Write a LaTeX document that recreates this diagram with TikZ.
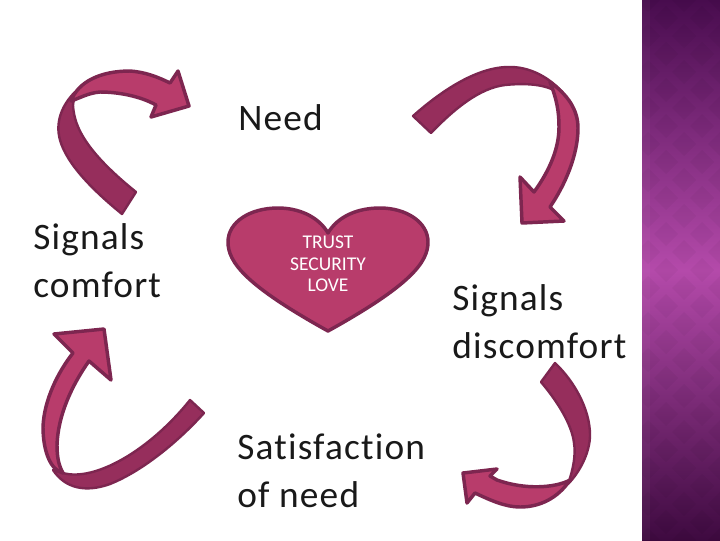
\documentclass[tikz,border=0pt]{standalone}
\usepackage{fontspec}
\setmainfont{Carlito}
\newfontfamily\labelfont[LetterSpace=3.2,Ligatures={NoCommon,NoContextual},RawFeature={-liga;-clig;-dlig}]{Carlito}
\definecolor{ribbonlight}{RGB}{184,60,107}
\definecolor{ribbondark}{RGB}{150,46,92}
\definecolor{ribbonline}{RGB}{125,38,80}
\definecolor{paneltop}{RGB}{72,12,78}
\definecolor{panelmid}{RGB}{180,74,170}
\definecolor{panelbottom}{RGB}{62,10,64}
\tikzset{
  lightpart/.style={draw=ribbonline,fill=ribbonlight,line width=2.6pt,line join=round},
  darkpart/.style={draw=ribbonline,fill=ribbondark,line width=1.8pt,line join=round},
  bigtext/.style={inner sep=0pt,anchor=west,align=left,font=\labelfont\fontsize{28}{36}\selectfont,text=black!90},
  hearttext/.style={inner sep=0pt,align=center,font=\fontsize{14.6}{16.2}\selectfont,text=white}
}
\begin{document}
\begin{tikzpicture}[x=0.75pt,y=-0.75pt]
\useasboundingbox (0,0) rectangle (720,540);
\fill[white] (0,0) rectangle (720,540);
% side panel
\shade[top color=paneltop,bottom color=panelbottom,middle color=panelmid] (642,0) rectangle (720,540);
\begin{scope}
\clip (642,0) rectangle (720,540);
\foreach \row in {0,...,30} {
  \foreach \col in {0,1,2,3} {
    \pgfmathsetmacro{\cx}{648+\col*36+mod(\row,2)*18}
    \pgfmathsetmacro{\cy}{\row*18}
    \fill[black,opacity=0.03] (\cx,\cy-12) -- (\cx+12,\cy) -- (\cx,\cy+12) -- (\cx-12,\cy) -- cycle;
  }
}
\fill[white,opacity=0.04] (642,0) rectangle (650,540);
\end{scope}
% top left arrow
\draw[darkpart] (122,214) .. controls (95,192) and (67,165) .. (60,140)
  .. controls (55,122) and (62,105) .. (75,92) -- (73,105)
  .. controls (74,122) and (80,147) .. (136,192) -- cycle;
\draw[lightpart] (71,101) .. controls (78,82) and (100,71) .. (130,71)
  .. controls (145,72) and (158,77) .. (170,83) -- (178,71) -- (189,106) -- (151,117) -- (156,105)
  .. controls (140,96) and (118,92) .. (100,92) .. controls (88,93) and (80,98) .. (71,101) -- cycle;
% top right arrow
\draw[darkpart] (413,116) .. controls (440,92) and (475,68) .. (507,67)
  .. controls (530,66) and (550,78) .. (563,93) -- (557,92)
  .. controls (545,84) and (525,83) .. (505,85)
  .. controls (480,88) and (455,108) .. (431,133) -- cycle;
\draw[lightpart] (550,82) .. controls (568,95) and (578,110) .. (578,128)
  .. controls (578,155) and (565,185) .. (550,207) -- (564,221) -- (522,223) -- (520,177) -- (534,192)
  .. controls (550,170) and (559,148) .. (559,127) .. controls (559,112) and (557,100) .. (550,82) -- cycle;
% bottom left arrow
\draw[darkpart] (204,413) .. controls (175,445) and (140,472) .. (110,484)
  .. controls (85,493) and (65,488) .. (53,470) -- (63,473)
  .. controls (95,482) and (150,450) .. (190,400) -- cycle;
\draw[lightpart] (63,473) .. controls (50,470) and (43,450) .. (43,427)
  .. controls (44,400) and (58,372) .. (73,353) -- (54,334) -- (104,329) -- (111,380) -- (89,361)
  .. controls (72,385) and (58,415) .. (57,445) .. controls (57,458) and (59,466) .. (63,473) -- cycle;
% bottom right arrow
\draw[darkpart] (555,363) .. controls (575,382) and (590,410) .. (590,435)
  .. controls (590,452) and (580,472) .. (568,484)
  .. controls (573,470) and (576,455) .. (574,443)
  .. controls (572,425) and (558,402) .. (541,382) -- cycle;
\draw[lightpart] (570,480) .. controls (555,488) and (525,490) .. (497,480) -- (490,476) -- (497,469) -- (463,473) -- (467,503) -- (475,493)
  .. controls (490,500) and (505,507) .. (520,507)
  .. controls (540,507) and (558,498) .. (570,480) -- cycle;
% heart
\draw[lightpart] (328,233) .. controls (318,216) and (298,208) .. (278,208)
  .. controls (250,208) and (228,222) .. (228,242)
  .. controls (228,262) and (245,285) .. (328,331)
  .. controls (411,285) and (428,262) .. (428,242)
  .. controls (428,222) and (406,208) .. (380,208)
  .. controls (358,208) and (338,216) .. (328,233) -- cycle;
\node[hearttext] (values) at (328,264) {TRUST\\SECURITY\\LOVE};
\node[bigtext] (need) at (238,118) {Need};
\node[bigtext] (comfort) at (33,261) {Signals\\comfort};
\node[bigtext] (discomfort) at (452,322) {Signals\\discomfort};
\node[bigtext] (satisfaction) at (237,471) {Satisfaction\\of need};
\end{tikzpicture}
\end{document}
